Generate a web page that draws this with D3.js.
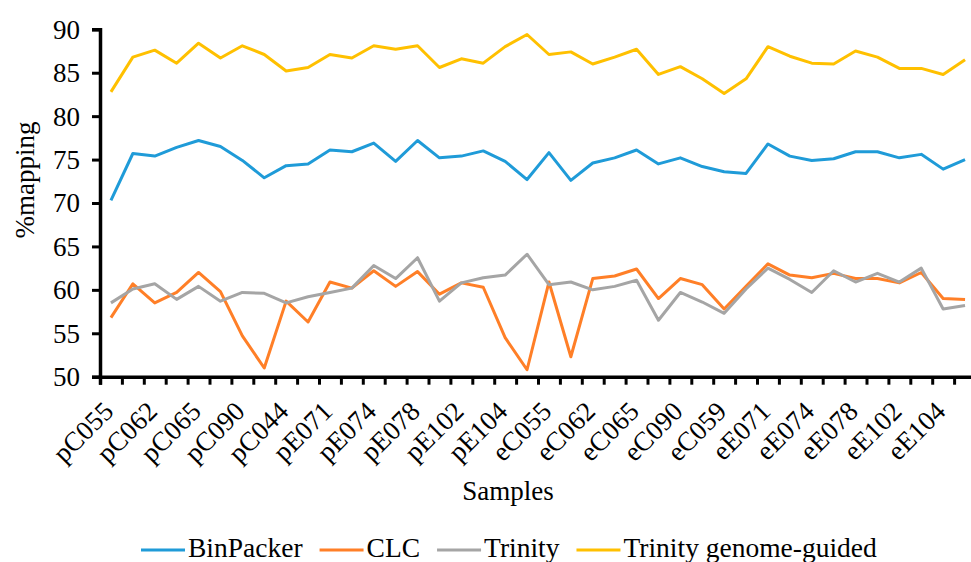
<!DOCTYPE html>
<meta charset="utf-8">
<style>
  body { margin: 0; background: #fff; }
  text { font-family: "Liberation Serif", "Times New Roman", serif; fill: #000; }
</style>
<script src="https://d3js.org/d3.v7.min.js"></script>
<div id="chart"></div>
<script>

// samples (only every other one gets a label on the axis)
var samples = [
  "pC055", "pC055_2", "pC062", "pC062_2", "pC065", "pC065_2", "pC090", "pC090_2", "pC044", "pC044_2",
  "pE071", "pE071_2", "pE074", "pE074_2", "pE078", "pE078_2", "pE102", "pE102_2", "pE104", "pE104_2",
  "eC055", "eC055_2", "eC062", "eC062_2", "eC065", "eC065_2", "eC090", "eC090_2", "eC059", "eC059_2",
  "eE071", "eE071_2", "eE074", "eE074_2", "eE078", "eE078_2", "eE102", "eE102_2", "eE104", "eE104_2"
];

var binPacker = [70.3, 75.7, 75.4, 76.4, 77.2, 76.5, 74.9, 72.9, 74.3, 74.5,
                 76.1, 75.9, 76.9, 74.8, 77.2, 75.2, 75.4, 76.0, 74.8, 72.7,
                 75.8, 72.6, 74.6, 75.2, 76.1, 74.5, 75.2, 74.2, 73.6, 73.4,
                 76.8, 75.4, 74.9, 75.1, 75.9, 75.9, 75.2, 75.6, 73.9, 75.0];

var clc = [56.8, 60.7, 58.5, 59.7, 62.0, 59.8, 54.7, 51.0, 58.7, 56.3,
           60.9, 60.2, 62.2, 60.4, 62.1, 59.5, 60.8, 60.3, 54.5, 50.8,
           60.9, 52.3, 61.3, 61.6, 62.4, 59.0, 61.3, 60.6, 57.8, 60.4,
           63.0, 61.7, 61.4, 61.9, 61.3, 61.3, 60.8, 62.0, 59.0, 58.9];

var trinity = [58.5, 60.1, 60.7, 58.9, 60.4, 58.7, 59.7, 59.6, 58.5, 59.2,
               59.7, 60.2, 62.8, 61.3, 63.7, 58.7, 60.8, 61.4, 61.7, 64.1,
               60.6, 60.9, 60.0, 60.4, 61.1, 56.5, 59.7, 58.6, 57.3, 60.1,
               62.5, 61.2, 59.7, 62.2, 60.9, 61.9, 60.9, 62.5, 57.8, 58.2];

var trinityGG = [82.8, 86.8, 87.6, 86.1, 88.4, 86.7, 88.1, 87.1, 85.2, 85.6,
                 87.1, 86.7, 88.1, 87.7, 88.1, 85.6, 86.6, 86.1, 88.0, 89.4,
                 87.1, 87.4, 86.0, 86.8, 87.7, 84.8, 85.7, 84.3, 82.6, 84.3,
                 88.0, 86.9, 86.1, 86.0, 87.5, 86.8, 85.5, 85.5, 84.8, 86.5];

var seriesNames = ["BinPacker", "CLC", "Trinity", "Trinity genome-guided"];
var seriesColors = ["#1f9bd8", "#ff7f27", "#a5a5a5", "#ffc000"];
var yTicks = [50, 55, 60, 65, 70, 75, 80, 85, 90];

var series = [binPacker, clc, trinity, trinityGG];

var W = 971, H = 562;
var plotLeft = 100, plotRight = 976, plotTop = 29.3, plotBottom = 376.7;

var svg = d3.select("#chart")
  .append("svg")
    .attr("width", W)
    .attr("height", H);

var x = d3.scaleBand()
  .domain(samples)
  .range([plotLeft, plotRight]);

// linear twin of x, used for the boundary tick marks
var xEdge = d3.scaleLinear()
  .domain([0, samples.length])
  .range([plotLeft, plotRight]);

var y = d3.scaleLinear()
  .domain([50, 90])
  .range([plotBottom, plotTop]);

// lines
var line = d3.line()
  .x(function(d, i) { return x(samples[i]) + x.bandwidth() / 2; })
  .y(function(d) { return y(d); });

svg.selectAll(".series")
  .data(series)
  .enter()
  .append("path")
    .attr("class", "series")
    .attr("fill", "none")
    .attr("stroke", function(d, i) { return seriesColors[i]; })
    .attr("stroke-width", 3)
    .attr("stroke-linejoin", "round")
    .attr("d", line);

// Y axis
var yAxis = svg.append("g")
  .attr("transform", "translate(" + plotLeft + ",0)")
  .call(d3.axisLeft(y).tickValues(yTicks).tickSize(8).tickPadding(12).tickFormat(d3.format("d")));
yAxis.select(".domain").attr("stroke-width", 3.5);
yAxis.selectAll(".tick line").attr("stroke-width", 3);
yAxis.selectAll("text")
  .attr("font-size", 27)
  .attr("dy", "0.33em");

// X axis: tick marks on every boundary
var xAxis = svg.append("g")
  .attr("transform", "translate(0," + plotBottom + ")")
  .call(d3.axisBottom(xEdge).tickValues(d3.range(samples.length + 1)).tickSize(8).tickFormat(""));
xAxis.select(".domain").attr("stroke-width", 3.5);
xAxis.selectAll(".tick line").attr("stroke-width", 3);

// category labels, every other sample
svg.selectAll(".xlab")
  .data(samples.filter(function(d, i) { return i % 2 === 0; }))
  .enter()
  .append("text")
    .attr("class", "xlab")
    .attr("text-anchor", "end")
    .attr("font-size", 27)
    .attr("transform", function(d) {
      return "translate(" + (x(d) + x.bandwidth() / 2 + 4) + ",413)rotate(-45)";
    })
    .text(function(d) { return d; });

// axis titles
svg.append("text")
  .attr("x", 508)
  .attr("y", 500)
  .attr("text-anchor", "middle")
  .attr("font-size", 27)
  .text("Samples");

svg.append("text")
  .attr("transform", "translate(34,180)rotate(-90)")
  .attr("text-anchor", "middle")
  .attr("font-size", 27)
  .text("%mapping");

// legend
var lx = 141;
seriesNames.forEach(function(name, i) {
  svg.append("line")
    .attr("x1", lx).attr("x2", lx + 44)
    .attr("y1", 550).attr("y2", 550)
    .attr("stroke", seriesColors[i])
    .attr("stroke-width", 3);
  var t = svg.append("text")
    .attr("x", lx + 47)
    .attr("y", 557)
    .attr("font-size", 27.5)
    .text(name);
  lx = lx + 47 + t.node().getComputedTextLength() + 17;
});

</script>
